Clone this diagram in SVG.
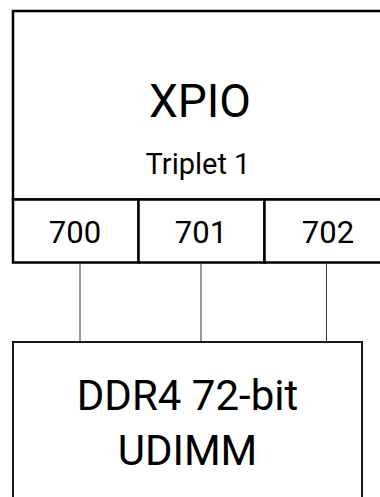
<svg xmlns="http://www.w3.org/2000/svg" width="380" height="497" viewBox="0 0 380 497">
<style>
.box{fill:#fff;stroke:#000;stroke-width:2.5}
.ddr{fill:#fff;stroke:#1a1a1a;stroke-width:2}
.t{font-family:Roboto,"Liberation Sans",sans-serif;fill:#000;text-anchor:middle}
.c{stroke:#333;stroke-width:1;fill:none}
</style>
<rect width="380" height="497" fill="#fff"/>
<g id="xpio">
<rect class="box" x="13" y="11" width="380" height="188.5"/>
<text class="t" x="200" y="117" font-size="46">XPIO</text>
<text class="t" x="198" y="174" font-size="29">Triplet 1</text>
</g>
<g id="port700">
<rect class="box" x="13" y="199.5" width="125.5" height="63"/>
<text class="t" x="75" y="243" font-size="31">700</text>
</g>
<g id="port701">
<rect class="box" x="138.5" y="199.5" width="126" height="63"/>
<text class="t" x="201" y="243" font-size="31">701</text>
</g>
<g id="port702">
<rect class="box" x="264.5" y="199.5" width="130" height="63"/>
<text class="t" x="328" y="243" font-size="31">702</text>
</g>
<g id="connectors">
<line class="c" x1="80" y1="263.5" x2="80" y2="342"/>
<line class="c" x1="201" y1="263.5" x2="201" y2="342"/>
<line class="c" x1="326.5" y1="263.5" x2="326.5" y2="342"/>
</g>
<g id="ddr4">
<rect class="ddr" x="13" y="342" width="349" height="170"/>
<text class="t" x="187.5" y="410" font-size="42">DDR4 72-bit</text>
<text class="t" x="187.5" y="465" font-size="42">UDIMM</text>
</g>
</svg>
